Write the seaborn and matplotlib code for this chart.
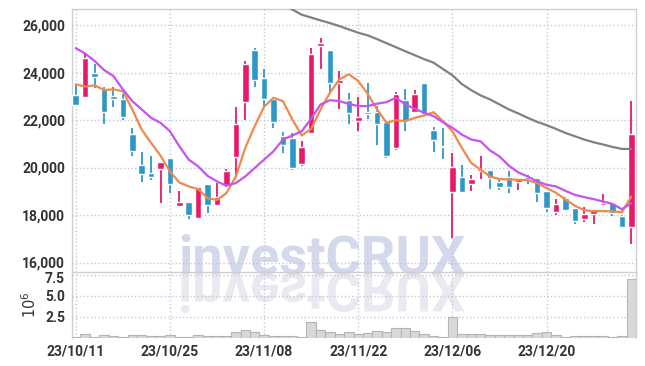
import matplotlib
matplotlib.use("Agg")
import matplotlib.pyplot as plt
import seaborn as sns
import numpy as np
from matplotlib.textpath import TextPath
from matplotlib.patches import PathPatch
from matplotlib.font_manager import FontProperties
from matplotlib.transforms import Affine2D, ScaledTranslation
from matplotlib.ticker import FuncFormatter

# =========================
# DATA (daily candles)
# =========================
opens = [23050, 22970, 23980, 23320, 23000, 22880, 21430, 20120, 19780, 19960,
         20420, 18390, 18560, 17860, 19320, 18440, 19280, 20430, 22760, 24940,
         23790, 22870, 21350, 21240, 20150, 21450, 25120, 24940, 23550, 22840,
         21960, 22340, 22340, 21910, 20830, 22830, 22340, 23550, 21600, 20920,
         18990, 19600, 19320, 19870, 19910, 19400, 19600, 19390, 19620, 19560,
         19020, 18140, 18710, 18290, 17820, 18030, 18430, 18500, 17940, 17510]
highs = [23500, 24780, 24350, 23410, 23410, 23080, 21680, 20660, 20500, 20250,
         20420, 19010, 18560, 19190, 19320, 19350, 19940, 22560, 24490, 25020,
         24170, 22870, 21490, 21460, 21140, 25020, 25440, 24940, 24070, 23150,
         22970, 23580, 22590, 21910, 23200, 23320, 23270, 23580, 21700, 21680,
         20620, 20090, 19700, 20470, 19910, 19560, 19840, 19530, 19700, 19560,
         19020, 18670, 18780, 18290, 18330, 18250, 18900, 18500, 18000, 22800]
lows = [22620, 22970, 23370, 21820, 22560, 22020, 20470, 19390, 19480, 18500,
        18920, 18390, 17820, 17860, 18080, 18440, 19200, 19620, 22020, 23410,
        22520, 21680, 20620, 19880, 20050, 21450, 24140, 23150, 22480, 21820,
        21560, 22050, 20960, 20400, 20720, 21530, 22340, 22240, 20660, 20370,
        17020, 18920, 19020, 19510, 19090, 19060, 18920, 19060, 19300, 18570,
        18140, 18000, 18210, 17620, 17720, 17620, 18360, 17960, 17510, 16770]
closes = [22620, 24600, 23820, 22340, 22880, 22120, 20690, 19740, 19620, 20250,
          19290, 18530, 18000, 19190, 18440, 18760, 19870, 21840, 24350, 23690,
          22870, 21910, 20940, 19970, 20870, 24780, 25240, 23550, 23690, 22280,
          22140, 22260, 21820, 20500, 23080, 21960, 23120, 22240, 21180, 20860,
          20010, 18960, 19530, 19920, 19570, 19160, 19160, 19510, 19530, 18920,
          18280, 18460, 18210, 17760, 18050, 18240, 18520, 18080, 17510, 21430]
volume_m = [0.1, 0.4, 0.1, 0.25, 0.15, 0.1, 0.35, 0.25, 0.12, 0.2,
            0.25, 0.1, 0.1, 0.35, 0.2, 0.2, 0.2, 0.7, 0.95, 0.6,
            0.35, 0.2, 0.2, 0.2, 0.1, 1.9, 0.85, 0.6, 0.4, 0.7,
            0.45, 0.55, 0.75, 0.6, 1.1, 1.1, 0.75, 0.45, 0.2, 0.1,
            2.4, 0.4, 0.4, 0.45, 0.25, 0.25, 0.35, 0.35, 0.25, 0.5,
            0.6, 0.3, 0.1, 0.2, 0.2, 0.2, 0.2, 0.1, 0.2, 7.0]

# moving averages as drawn on the chart
ma5 = [23505, 23410, 23465, 23265, 23295, 23220, 22450, 21600, 21040, 20500,
       19840, 19370, 19205, 19090, 18710, 18635, 18925, 19625, 20830, 21740,
       22560, 22940, 22800, 22025, 21350, 21630, 22450, 23155, 23715, 23930,
       23645, 23110, 22450, 21885, 21995, 21955, 22095, 22195, 22335, 21955,
       21530, 20830, 20195, 19910, 19625, 19515, 19500, 19485, 19470, 19345,
       19135, 18940, 18655, 18395, 18205, 18160, 18170, 18150, 18120, 18780]
ma10 = [25030, 24805, 24490, 24110, 23855, 23295, 22800, 22450, 22095, 21885,
        21530, 20895, 20335, 20050, 19650, 19415, 19235, 19345, 19625, 19980,
        20335, 20685, 21180, 21350, 21530, 22055, 22660, 22840, 22800, 22680,
        22590, 22590, 22690, 22755, 22940, 22660, 22475, 22310, 22165, 21910,
        21675, 21390, 21180, 21105, 20720, 20470, 20080, 19795, 19625, 19415,
        19275, 19205, 19020, 18850, 18755, 18670, 18570, 18470, 18245, 18500]
ma60 = [None] * 22 + [
        26890, 26655, 26440, 26320, 26200, 26085, 25960, 25820, 25680, 25570,
        25410, 25240, 25070, 24900, 24735, 24565, 24420, 24150, 23890, 23520,
        23260, 23040, 22870, 22660, 22450, 22280, 22095, 21925, 21785, 21630,
        21460, 21320, 21180, 21065, 20970, 20870, 20785, 20785]

tick_labels = ["23/10/11", "23/10/25", "23/11/08", "23/11/22", "23/12/06", "23/12/20"]

# =========================
# STYLE
# =========================
sns.set_style("white")
plt.rcParams['font.family'] = ['Roboto', 'DejaVu Sans']

UP = "#e8196b"
DOWN = "#2f97c8"
GRID = "#c4c7de"
SPINE = "#cfcfcf"
TXT = "#333333"

W, H = 645, 366
fig = plt.figure(figsize=(W / 100, H / 100), dpi=100, facecolor="white")
ax = fig.add_axes([72 / W, 1 - 272 / H, (636 - 72) / W, (272 - 9) / H])
axv = fig.add_axes([72 / W, 1 - 337.5 / H, (636 - 72) / W, (337.5 - 272) / H])
for a in (ax, axv):
    a.set_facecolor("none")

# =========================
# WATERMARK (text + mirrored copy)
# =========================
wm_prop = FontProperties(family=['Roboto', 'DejaVu Sans'], weight='bold')
x0, x1, y_base = 178, 465, 273
wm = fig.text(x0 / W, (H - y_base) / H, "investCRUX", fontproperties=wm_prop,
              fontsize=40, color="#d3d8ea", ha="left", va="baseline", zorder=-1)
r = fig.canvas.get_renderer()
fs = 40 * (x1 - x0) / wm.get_window_extent(r).width
wm.set_fontsize(fs)
tp = TextPath((0, 0), "investCRUX", size=fs * 100 / 72, prop=wm_prop)
tr_ref = Affine2D().scale(1, -1).translate(x0, H - y_base)
fig.add_artist(PathPatch(tp, transform=tr_ref, fc="#e8e9f1", ec="none", zorder=-1))

# =========================
# CANDLES
# =========================
o = np.array(opens)
h = np.array(highs)
l = np.array(lows)
c = np.array(closes)
idx = np.arange(len(c))
cols = np.where(c >= o, UP, DOWN)

ax.vlines(idx, l, h, colors=cols, lw=1.3, zorder=2)
ax.bar(idx, np.maximum(np.abs(c - o), 50), bottom=np.minimum(o, c),
       width=0.7, color=cols, zorder=3)

sns.lineplot(x=idx, y=ma5, ax=ax, color="#ef8a4c", lw=1.6, zorder=4)
sns.lineplot(x=idx, y=ma10, ax=ax, color="#c653ee", lw=1.6, zorder=4)
m60 = np.array([np.nan if v is None else v for v in ma60], dtype=float)
ok = ~np.isnan(m60)
sns.lineplot(x=idx[ok], y=m60[ok], ax=ax, color="#808080", lw=1.6, zorder=4)

# =========================
# VOLUME
# =========================
sns.barplot(x=idx, y=np.array(volume_m) * 1e6, native_scale=True, ax=axv,
            width=1.0, color="#d8d8d8", edgecolor="#b4b4b4", linewidth=0.8,
            saturation=1)

# =========================
# AXES
# =========================
for a in (ax, axv):
    a.set_xlim(-0.4, 59.5)
    a.set_xticks(range(0, 60, 10))
    a.grid(True, ls=":", color=GRID, lw=1)
    a.tick_params(length=0, labelcolor=TXT, labelsize=10)
    for s in a.spines.values():
        s.set_color(SPINE)
        s.set_linewidth(1)
    a.set_xlabel("")

ax.set_ylim(15600, 26680)
ax.set_yticks(range(16000, 26001, 2000))
ax.yaxis.set_major_formatter(FuncFormatter(lambda v, p: f"{int(v):,}"))
ax.tick_params(labelbottom=False, pad=5)
ax.set_ylabel("")

axv.set_ylim(0, 7.8e6)
axv.set_yticks([2.5e6, 5e6, 7.5e6])
axv.yaxis.set_major_formatter(FuncFormatter(lambda v, p: f"{v / 1e6:.1f}"))
axv.set_xticklabels(tick_labels)
axv.tick_params(axis="x", pad=5)
axv.tick_params(axis="y", pad=5)
axv.spines["top"].set_visible(False)
axv.spines["bottom"].set_visible(False)
axv.set_ylabel("$10^6$", fontsize=10.5, color=TXT, labelpad=4)

for t in ax.get_yticklabels() + axv.get_yticklabels() + axv.get_xticklabels():
    t.set_fontweight("bold")

# top volume label sits a little below its gridline, as in the original
top_lbl = axv.yaxis.get_major_ticks()[-1].label1
top_lbl.set_transform(top_lbl.get_transform() + ScaledTranslation(0, -0.025, fig.dpi_scale_trans))

fig.savefig("out.png", dpi=100, facecolor="white")
